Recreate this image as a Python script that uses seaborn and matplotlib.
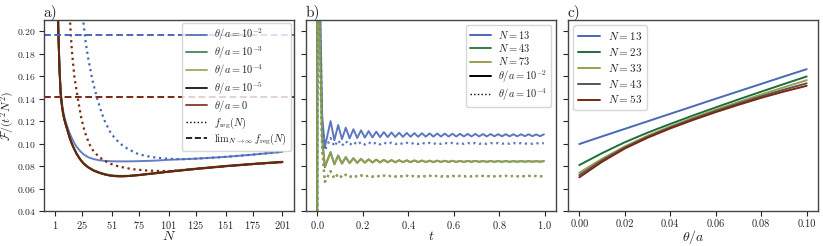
import numpy as np
import matplotlib
matplotlib.use("Agg")
import matplotlib.pyplot as plt
from matplotlib.lines import Line2D
import seaborn as sns

# ---------------- data ----------------
# panel a: F/(t^2 N^2) against N
N_a = [2, 3, 4, 5, 6, 7, 8, 9, 10, 12, 14, 16, 18, 20, 23, 26, 30, 35, 40, 45,
       50, 55, 60, 65, 75, 90, 101, 125, 151, 175, 201]
a_theta_1e2 = [0.335, 0.25, 0.2, 0.167, 0.1465, 0.1368, 0.1300, 0.1250, 0.1210, 0.1145,
               0.1090, 0.1045, 0.1005, 0.0972, 0.0935, 0.0906, 0.0880, 0.0862, 0.0852, 0.0846,
               0.0843, 0.0842, 0.0842, 0.0842, 0.0844, 0.0849, 0.0856, 0.0866, 0.0882, 0.0902, 0.0927]
a_theta_1e3 = [0.33, 0.245, 0.197, 0.165, 0.1445, 0.1345, 0.1275, 0.1225, 0.1185, 0.1117,
               0.1050, 0.0995, 0.0950, 0.0910, 0.0862, 0.0825, 0.0793, 0.0764, 0.0744, 0.0729,
               0.0719, 0.0714, 0.0713, 0.0714, 0.0723, 0.0740, 0.0753, 0.0778, 0.0802, 0.0821, 0.0839]
a_theta_small = [0.33, 0.245, 0.197, 0.165, 0.1445, 0.1345, 0.1275, 0.1225, 0.1185, 0.1117,
                 0.1050, 0.0995, 0.0950, 0.0910, 0.0862, 0.0825, 0.0790, 0.0760, 0.0740, 0.0725,
                 0.0715, 0.0710, 0.0709, 0.0711, 0.0720, 0.0737, 0.0750, 0.0775, 0.0799, 0.0818, 0.0836]

N_freg_blue = [22, 24, 26, 28, 30, 34, 38, 42, 45, 50, 55, 60, 65, 73, 80, 90, 101, 115,
               125, 151, 175, 201]
freg_blue = [0.27, 0.235, 0.208, 0.19, 0.177, 0.156, 0.1405, 0.1275, 0.1195, 0.1095, 0.1033,
             0.0987, 0.0953, 0.0912, 0.0892, 0.0875, 0.0864, 0.0862, 0.0866, 0.0882, 0.0902, 0.0927]
N_freg_brown = [12, 13, 14, 15, 16, 18, 21, 24, 27, 31, 35, 40, 45, 50, 56, 63, 70, 80, 90,
                101, 125, 151, 175, 201]
freg_brown = [0.26, 0.235, 0.214, 0.195, 0.181, 0.160, 0.1405, 0.1235, 0.1110, 0.1000, 0.0930,
              0.0880, 0.0845, 0.0820, 0.0800, 0.0783, 0.0772, 0.0762, 0.0757, 0.0756, 0.0775,
              0.0799, 0.0818, 0.0836]
lim_blue = 0.1964
lim_brown = 0.1416
a_ticks = [1, 25, 51, 75, 101, 125, 151, 175, 201]

# panel b: time evolution
t_start = [0.0, 0.004, 0.012, 0.022, 0.034]
t_wave = list(np.linspace(0.059, 0.997, 57))   # peaks / troughs of the ripple
b_n13_start = [0.0, 0.9, 0.24, 0.125, 0.097]
b_n13_wave = [0.1200, 0.1030, 0.1165, 0.1040, 0.1142, 0.1046, 0.1128, 0.1050, 0.1118, 0.1053,
              0.1111, 0.1055, 0.1106, 0.1057, 0.1102, 0.1058, 0.1099, 0.1059, 0.1097, 0.1060,
              0.1095, 0.1061, 0.1093, 0.1061, 0.1092, 0.1062, 0.1091, 0.1062, 0.1090, 0.1063,
              0.1089, 0.1063, 0.1088, 0.1063, 0.1087, 0.1064, 0.1086, 0.1064, 0.1086, 0.1064,
              0.1085, 0.1064, 0.1085, 0.1065, 0.1084, 0.1065, 0.1084, 0.1065, 0.1083, 0.1065,
              0.1083, 0.1066, 0.1083, 0.1066, 0.1082, 0.1066, 0.1082]
b_n13_dot_start = [0.0, 0.9, 0.22, 0.115, 0.094]
b_n13_dot_wave = [0.1050, 0.0975, 0.1030, 0.0982, 0.1022, 0.0986, 0.1017, 0.0989, 0.1014, 0.0991,
                  0.1012, 0.0992, 0.1011, 0.0993, 0.1010, 0.0994, 0.1009, 0.0995, 0.1009, 0.0995,
                  0.1008, 0.0996, 0.1008, 0.0996, 0.1008, 0.0996, 0.1007, 0.0996, 0.1007, 0.0997,
                  0.1007, 0.0997, 0.1007, 0.0997, 0.1007, 0.0997, 0.1006, 0.0997, 0.1006, 0.0997,
                  0.1006, 0.0997, 0.1006, 0.0998, 0.1006, 0.0998, 0.1006, 0.0998, 0.1006, 0.0998,
                  0.1005, 0.0998, 0.1005, 0.0998, 0.1005, 0.0998, 0.1005]
b_n43_start = [0.0, 0.9, 0.20, 0.105, 0.079]
b_n43_wave = [0.0925, 0.0815, 0.0895, 0.0822, 0.0880, 0.0826, 0.0870, 0.0829, 0.0864, 0.0831,
              0.0860, 0.0832, 0.0857, 0.0833, 0.0855, 0.0834, 0.0853, 0.0834, 0.0852, 0.0835,
              0.0851, 0.0835, 0.0850, 0.0836, 0.0849, 0.0836, 0.0848, 0.0836, 0.0848, 0.0837,
              0.0847, 0.0837, 0.0847, 0.0837, 0.0846, 0.0837, 0.0846, 0.0838, 0.0846, 0.0838,
              0.0845, 0.0838, 0.0845, 0.0838, 0.0845, 0.0838, 0.0845, 0.0838, 0.0844, 0.0839,
              0.0844, 0.0839, 0.0844, 0.0839, 0.0844, 0.0839, 0.0844]
b_n73_start = [0.0, 0.9, 0.20, 0.104, 0.080]
b_n73_wave = [0.0918, 0.0818, 0.0892, 0.0823, 0.0878, 0.0827, 0.0869, 0.0829, 0.0863, 0.0831,
              0.0859, 0.0832, 0.0857, 0.0833, 0.0855, 0.0834, 0.0853, 0.0834, 0.0852, 0.0835,
              0.0851, 0.0835, 0.0850, 0.0836, 0.0849, 0.0836, 0.0848, 0.0836, 0.0848, 0.0837,
              0.0847, 0.0837, 0.0847, 0.0837, 0.0846, 0.0837, 0.0846, 0.0838, 0.0846, 0.0838,
              0.0845, 0.0838, 0.0845, 0.0838, 0.0845, 0.0838, 0.0845, 0.0838, 0.0844, 0.0839,
              0.0844, 0.0839, 0.0844, 0.0839, 0.0844, 0.0839, 0.0844]
b_mid_dot_start = [0.0, 0.9, 0.18, 0.095, 0.066]
b_mid_dot_wave = [0.0755, 0.0690, 0.0730, 0.0698, 0.0723, 0.0702, 0.0719, 0.0704, 0.0717, 0.0705,
                  0.0716, 0.0706, 0.0715, 0.0706, 0.0715, 0.0707, 0.0715, 0.0707, 0.0714, 0.0707,
                  0.0714, 0.0707, 0.0714, 0.0708, 0.0714, 0.0708, 0.0714, 0.0708, 0.0714, 0.0708,
                  0.0713, 0.0708, 0.0713, 0.0708, 0.0713, 0.0708, 0.0713, 0.0708, 0.0713, 0.0709,
                  0.0713, 0.0709, 0.0713, 0.0709, 0.0713, 0.0709, 0.0713, 0.0709, 0.0713, 0.0709,
                  0.0713, 0.0709, 0.0713, 0.0709, 0.0713, 0.0709, 0.0713]

# panel c: against theta/a
theta_c = [0.0, 0.01, 0.02, 0.03, 0.04, 0.05, 0.06, 0.07, 0.08, 0.09, 0.10]
c_n13 = [0.0996, 0.1064, 0.1131, 0.1198, 0.1265, 0.1332, 0.1399, 0.1465, 0.1531, 0.1597, 0.1662]
c_n23 = [0.0809, 0.0915, 0.1012, 0.1097, 0.1175, 0.1250, 0.1322, 0.1393, 0.1462, 0.1530, 0.1597]
c_n33 = [0.0741, 0.0865, 0.0975, 0.1070, 0.1153, 0.1230, 0.1302, 0.1370, 0.1437, 0.1501, 0.1564]
c_n43 = [0.0720, 0.0851, 0.0965, 0.1060, 0.1143, 0.1219, 0.1290, 0.1357, 0.1421, 0.1480, 0.1536]
c_n53 = [0.0700, 0.0838, 0.0956, 0.1052, 0.1135, 0.1210, 0.1280, 0.1345, 0.1407, 0.1463, 0.1514]

BLUE = "#4a68b8"
GREEN = "#2f7d4c"
DGREEN = "#1e6e3c"
OLIVE = "#9aa050"
BROWN = "#7a2810"
GREY = "#555555"

# ---------------- style ----------------
sns.set_style("ticks")
plt.rcParams["font.family"] = ["cmr10", "DejaVu Serif"]
plt.rcParams["mathtext.fontset"] = "cm"
plt.rcParams["axes.unicode_minus"] = False
plt.rcParams["axes.formatter.use_mathtext"] = True
plt.rcParams["xtick.labelsize"] = 7.5
plt.rcParams["ytick.labelsize"] = 7
plt.rcParams["xtick.major.size"] = 3.5
plt.rcParams["ytick.major.size"] = 3.5
plt.rcParams["xtick.major.pad"] = 2.5
plt.rcParams["ytick.major.pad"] = 2
plt.rcParams["axes.linewidth"] = 1.0

fig, axes = plt.subplots(1, 3, figsize=(8.23, 2.46), dpi=100, sharey=True)
fig.subplots_adjust(left=0.053, right=0.994, top=0.919, bottom=0.142, wspace=0.048)
ax_a, ax_b, ax_c = axes
LW = 1.4
LEG_FS = 7.5
LEG_KW = dict(fontsize=LEG_FS, labelspacing=0.12, handletextpad=0.7, borderpad=0.35)

# ---------------- panel a ----------------
for vals, col in [(a_theta_1e2, BLUE), (a_theta_1e3, GREEN), (a_theta_small, OLIVE),
                  (a_theta_small, "black"), (a_theta_small, BROWN)]:
    sns.lineplot(x=N_a, y=vals, ax=ax_a, color=col, lw=LW, alpha=0.85, errorbar=None)
sns.lineplot(x=N_freg_blue, y=freg_blue, ax=ax_a, color=BLUE, lw=1.6, ls=":", errorbar=None)
sns.lineplot(x=N_freg_brown, y=freg_brown, ax=ax_a, color=BROWN, lw=1.6, ls=":", errorbar=None)
ax_a.axhline(lim_blue, color=BLUE, lw=1.4, dashes=(3.5, 1.8))
ax_a.axhline(lim_brown, color=BROWN, lw=1.4, dashes=(3.5, 1.8))

handles_a = [Line2D([], [], color=c, lw=LW, alpha=0.85) for c in [BLUE, GREEN, OLIVE, "black", BROWN]]
handles_a += [Line2D([], [], color="black", lw=1.0, ls=":"),
              Line2D([], [], color="black", lw=1.2, ls="--")]
labels_a = [r"$\theta/a=10^{-2}$", r"$\theta/a=10^{-3}$", r"$\theta/a=10^{-4}$",
            r"$\theta/a=10^{-5}$", r"$\theta/a=0$", r"$f_{\rm reg}(N)$",
            r"$\mathrm{lim}_{N\to\infty}\, f_{\rm reg}(N)$"]
ax_a.legend(handles_a, labels_a, loc="upper right", borderaxespad=0.3, **LEG_KW)
ax_a.set_xticks(a_ticks)
ax_a.set_xlim(-9, 211)
ax_a.set_ylim(0.04, 0.21)
ax_a.set_yticks([0.04, 0.06, 0.08, 0.10, 0.12, 0.14, 0.16, 0.18, 0.20])
ax_a.set_xlabel(r"$N$", fontsize=10, labelpad=-1)
ax_a.set_ylabel(r"$\mathcal{F}/(t^2N^2)$", fontsize=8.5)
ax_a.yaxis.set_label_coords(-0.112, 0.5)
ax_a.set_title("a)", loc="left", fontsize=11, pad=1)

# ---------------- panel b ----------------
t_b = t_start + t_wave
for start, wave, col, ls in [(b_n13_start, b_n13_wave, BLUE, "-"),
                             (b_n43_start, b_n43_wave, GREEN, "-"),
                             (b_n73_start, b_n73_wave, OLIVE, "-"),
                             (b_n13_dot_start, b_n13_dot_wave, BLUE, ":"),
                             (b_mid_dot_start, b_mid_dot_wave, GREEN, ":"),
                             (b_mid_dot_start, b_mid_dot_wave, OLIVE, ":")]:
    sns.lineplot(x=t_b, y=start + wave, ax=ax_b, color=col, lw=LW if ls == "-" else 1.6,
                 ls=ls, alpha=0.9, errorbar=None)
handles_b = [Line2D([], [], color=c, lw=LW) for c in [BLUE, GREEN, OLIVE, "black"]]
handles_b += [Line2D([], [], color="black", lw=1.0, ls=":")]
labels_b = [r"$N=13$", r"$N=43$", r"$N=73$", r"$\theta/a=10^{-2}$", r"$\theta/a=10^{-4}$"]
ax_b.legend(handles_b, labels_b, loc="upper right", **LEG_KW)
ax_b.set_xlim(-0.05, 1.05)
ax_b.set_xlabel(r"$t$", fontsize=10, labelpad=-1)
ax_b.set_title("b)", loc="left", fontsize=11, pad=1)

# ---------------- panel c ----------------
for vals, col, lab in [(c_n13, BLUE, r"$N=13$"), (c_n23, DGREEN, r"$N=23$"),
                       (c_n33, OLIVE, r"$N=33$"), (c_n43, GREY, r"$N=43$"),
                       (c_n53, BROWN, r"$N=53$")]:
    sns.lineplot(x=theta_c, y=vals, ax=ax_c, color=col, lw=LW, label=lab, errorbar=None)
ax_c.legend(loc="upper left", fontsize=8, labelspacing=0.35, handletextpad=0.7,
            borderpad=0.4)
ax_c.set_xticks([0.0, 0.02, 0.04, 0.06, 0.08, 0.10])
ax_c.set_xticklabels(["0.00", "0.02", "0.04", "0.06", "0.08", "0.10"])
ax_c.set_xlim(-0.005, 0.105)
ax_c.set_xlabel(r"$\theta/a$", fontsize=10, labelpad=-1)
ax_c.set_title("c)", loc="left", fontsize=11, pad=1)

for ax in axes:
    for sp in ax.spines.values():
        sp.set_visible(True)
        sp.set_color("#444444")

fig.savefig("out.png", dpi=100)
